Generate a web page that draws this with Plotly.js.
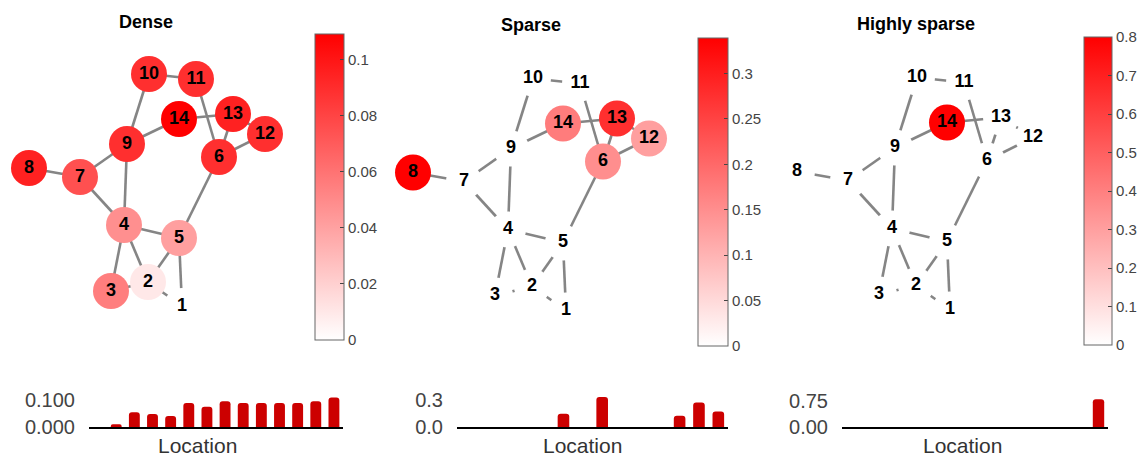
<!DOCTYPE html>
<html>
<head>
<meta charset="utf-8">
<script src="https://cdn.plot.ly/plotly-3.0.1.min.js"></script>
<style>html,body{margin:0;padding:0;background:#fff;}#chart{width:1145px;height:458px;}</style>
</head>
<body>
<div id="chart"></div>
<script>
// ---- data ----
const nodeLabels = ['1','2','3','4','5','6','7','8','9','10','11','12','13','14'];
const locations = [1,2,3,4,5,6,7,8,9,10,11,12,13,14];
// graph layout coordinates of nodes (arbitrary units, y up)
const nodeX = [182,148,111,124,179,219,80,29,127,149,196,265,233,179];
const nodeY = [14,38,29,95,82,163,143,152,176,246,241,186,206,201];
const edges = [[10,11],[10,9],[11,6],[14,13],[14,9],[13,6],[12,6],[13,12],[9,7],[9,4],[8,7],[7,4],
               [6,5],[4,5],[4,3],[4,2],[5,2],[5,1],[2,1],[3,2]];
const panelTitles = ['Dense','Sparse','Highly sparse'];
const denseValues = [0,0.010,0.055,0.048,0.041,0.089,0.075,0.095,0.089,0.089,0.089,0.089,0.095,0.109];
const sparseValues = [0,0,0,0,0,0.150,0,0.339,0,0,0,0.127,0.277,0.174];
const highlySparseValues = [0,0,0,0,0,0,0,0,0,0,0,0,0,0.8];
const seriesValues = [denseValues, sparseValues, highlySparseValues];
const cbDticks = [0.02, 0.05, 0.1];
const barTickVals = [[0,0.1],[0,0.3],[0,0.75]];
const barTickFormats = ['.3f','.1f','.2f'];
const barRanges = [[0,0.12],[0,0.36],[0,0.85]];

// ---- geometry helpers (pixels -> paper fractions) ----
const W = 1145, H = 458;
const fx = p => p / W;
const fy = p => 1 - p / H;

const netOffX = [0, 384, 768];
const netOffY = [0, 4.5, 3.5];
const cbGeom = [ {left:315, top:34, bot:340, th:29}, {left:698, top:38, bot:346, th:30}, {left:1084, top:37, bot:345, th:28} ];
const barGeom = [ {l:89, r:343, base:427, pxPerUnit:270}, {l:457, r:728, base:427, pxPerUnit:88.5}, {l:842, r:1108, base:427, pxPerUnit:34.6} ];
const titlePos = [[146,22],[531,25],[916,24]];
const locPos = [197,582,962];

const font = '"Liberation Sans", Arial, Helvetica, sans-serif';
const traces = [];
const layout = {
  width: W, height: H,
  margin: {l:0, r:0, t:0, b:0},
  paper_bgcolor: '#fff', plot_bgcolor: 'rgba(0,0,0,0)',
  showlegend: false,
  font: {family: font, color: '#333'},
  annotations: []
};

for (let i = 0; i < 3; i++) {
  const xa = 'x' + (i*2+1), ya = 'y' + (i*2+1);
  const xb = 'x' + (i*2+2), yb = 'y' + (i*2+2);
  const suf = n => (n === 1 ? '' : n);

  // edges
  const ex = [], ey = [];
  edges.forEach(([a,b]) => { ex.push(nodeX[a-1], nodeX[b-1], null); ey.push(nodeY[a-1], nodeY[b-1], null); });
  traces.push({type:'scatter', mode:'lines', x:ex, y:ey, xaxis:xa, yaxis:ya,
    line:{color:'#858585', width:2.6}, hoverinfo:'skip'});

  // nodes
  const cb = cbGeom[i];
  traces.push({type:'scatter', mode:'markers+text', x:nodeX, y:nodeY, xaxis:xa, yaxis:ya,
    text:nodeLabels, textposition:'middle center',
    textfont:{family:font, size:18, weight:'bold', color:'#000'},
    marker:{size:36, color:seriesValues[i], cmin:0, cmax:Math.max(...seriesValues[i]),
      colorscale:[[0,'#ffffff'],[1,'#ff0000']], line:{width:0},
      showscale:true,
      colorbar:{x:fx(cb.left), xanchor:'left', xref:'paper',
        y:fy((cb.top+cb.bot)/2), yanchor:'middle', yref:'paper',
        len:cb.bot-cb.top, lenmode:'pixels', thickness:cb.th, thicknessmode:'pixels',
        xpad:0, ypad:0, outlinewidth:1, outlinecolor:'#666',
        ticks:'inside', ticklen:4, tickcolor:'#444', tick0:0, dtick:cbDticks[i],
        tickfont:{family:font, size:15, color:'#444'}}}});

  const n1 = i*2+1, n2 = i*2+2;
  layout['xaxis'+suf(n1)] = {domain:[fx(netOffX[i]), fx(netOffX[i]+300)], range:[0,300],
    visible:false, fixedrange:true};
  layout['yaxis'+suf(n1)] = {domain:[fy(320+netOffY[i]), fy(10+netOffY[i])], range:[0,310],
    visible:false, fixedrange:true};

  // bars
  const bg = barGeom[i];
  traces.push({type:'bar', x:locations, y:seriesValues[i], xaxis:xb, yaxis:yb,
    marker:{color:'#cc0000', cornerradius:3}, width:0.6, hoverinfo:'x+y'});
  const r = barRanges[i];
  layout['xaxis'+n2] = {domain:[fx(bg.l), fx(bg.r)], range:[0.5,14.5], anchor:'y'+n2,
    showgrid:false, zeroline:false, showticklabels:false, ticks:'',
    showline:true, linecolor:'#000', linewidth:2, fixedrange:true};
  layout['yaxis'+n2] = {domain:[fy(bg.base), fy(bg.base - r[1]*bg.pxPerUnit)], range:r, anchor:'x'+n2,
    showgrid:false, zeroline:false, showline:false,
    tickvals:barTickVals[i], tickformat:barTickFormats[i],
    ticks:'outside', ticklen:9, tickcolor:'rgba(0,0,0,0)',
    tickfont:{family:font, size:20, color:'#444'}, fixedrange:true};

  layout.annotations.push({text:panelTitles[i], xref:'paper', yref:'paper',
    x:fx(titlePos[i][0]), y:fy(titlePos[i][1]), xanchor:'center', yanchor:'middle', showarrow:false,
    font:{family:font, size:18, weight:'bold', color:'#000'}});
  layout.annotations.push({text:'Location', xref:'paper', yref:'paper',
    x:fx(locPos[i]), y:0, xanchor:'center', yanchor:'bottom', showarrow:false, borderpad:0,
    font:{family:font, size:21, color:'#333'}});
}

Plotly.newPlot('chart', traces, layout, {displayModeBar:false, staticPlot:true});
</script>
</body>
</html>
